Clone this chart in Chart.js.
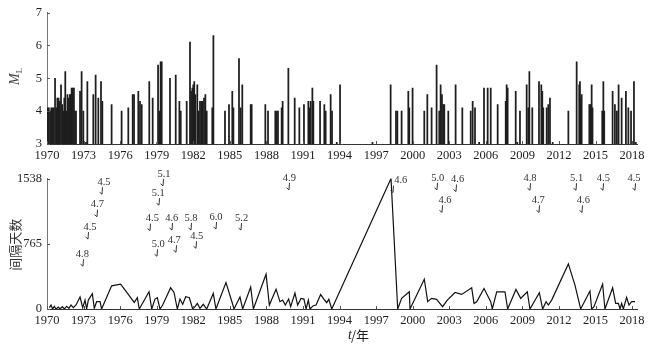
<!DOCTYPE html>
<html>
<head>
<meta charset="utf-8">
<script src="https://cdn.jsdelivr.net/npm/chart.js@4"></script>
<style>
  html, body { margin: 0; background: #fff; }
  #wrap { position: relative; width: 668px; height: 347px; }
  .box { position: absolute; left: 0; width: 668px; }
</style>
</head>
<body>
<div id="wrap">
  <div class="box" style="top:0;height:170px"><canvas id="mag"></canvas></div>
  <div class="box" style="top:166px;height:181px"><canvas id="gap"></canvas></div>
</div>
<script>
// Earthquake magnitudes (top) and interval days between events (bottom), 1970-2018.

const yearTicks = [1970, 1973, 1976, 1979, 1982, 1985, 1988, 1991, 1994, 1997, 2000, 2003, 2006, 2009, 2012, 2015, 2018];
const magTicks = [3, 4, 5, 6, 7];
const gapTicks = [0, 765, 1538];

// top panel: event time (decimal year) and M_L
const barYears = [
  1970.05, 1970.15, 1970.25, 1970.35, 1970.45, 1970.55, 1970.66, 1970.75, 1970.85, 1970.95,
  1971.05, 1971.15, 1971.25, 1971.35, 1971.42, 1971.50, 1971.60, 1971.68, 1971.78, 1971.88,
  1971.95, 1972.02, 1972.12, 1972.21, 1972.30, 1972.38, 1972.71, 1972.84, 1972.98, 1973.20,
  1973.31, 1973.80, 1973.99, 1974.21, 1974.43, 1974.54, 1975.30, 1976.12, 1976.67, 1977.03,
  1977.14, 1977.49, 1977.63, 1977.77, 1978.39, 1978.67, 1979.05, 1979.11, 1979.22, 1979.32,
  1979.41, 1980.09, 1980.56, 1980.86, 1980.97, 1981.46, 1981.73, 1981.82, 1981.92, 1982.00,
  1982.08, 1982.17, 1982.33, 1982.44, 1982.55, 1982.66, 1982.77, 1982.88, 1982.99, 1983.10,
  1983.56, 1983.65, 1984.60, 1984.93, 1985.20, 1985.29, 1985.75, 1985.89, 1986.02, 1986.71,
  1986.79, 1987.91, 1988.13, 1988.73, 1988.84, 1988.95, 1989.25, 1989.33, 1989.80, 1990.32,
  1990.70, 1991.08, 1991.44, 1991.52, 1991.63, 1991.77, 1991.85, 1992.40, 1992.75, 1992.86,
  1993.27, 1993.38, 1993.77, 1994.04, 1996.70, 1998.19, 1998.63, 1998.74, 1999.09, 1999.64,
  1999.72, 1999.99, 2000.95, 2001.20, 2001.55, 2001.96, 2002.18, 2002.29, 2002.40, 2002.50,
  2002.59, 2002.92, 2003.52, 2004.07, 2004.76, 2004.92, 2005.11, 2005.45, 2005.85, 2006.15,
  2006.40, 2006.97, 2007.63, 2007.71, 2007.79, 2008.45, 2008.58, 2008.80, 2009.35, 2009.48,
  2009.57, 2009.81, 2010.36, 2010.55, 2010.63, 2010.71, 2010.99, 2011.12, 2011.26, 2011.48,
  2012.77, 2013.45, 2013.66, 2013.72, 2013.78, 2013.86, 2014.49, 2014.57, 2014.68, 2014.75,
  2015.55, 2015.64, 2015.71, 2016.40, 2016.59, 2016.75, 2016.89, 2017.14, 2017.49, 2017.69,
  2017.91, 2018.15, 2018.30,
];
const barMags = [
  4.1, 4.1, 4.0, 4.1, 4.1, 4.1, 5.0, 4.1, 4.4, 4.4,
  4.3, 4.8, 4.2, 4.0, 4.4, 5.2, 4.0, 4.5, 4.4, 4.5,
  4.5, 4.7, 4.7, 4.7, 4.0, 4.0, 4.6, 5.2, 4.0, 3.05,
  4.9, 4.5, 5.1, 4.4, 4.9, 4.3, 4.2, 4.0, 4.1, 4.5,
  4.5, 4.6, 4.3, 4.2, 4.9, 4.4, 3.05, 5.4, 4.0, 5.5,
  5.5, 5.0, 5.1, 4.3, 4.0, 4.3, 6.1, 4.6, 4.7, 4.8,
  4.9, 4.5, 4.8, 4.0, 4.3, 4.3, 4.3, 4.4, 4.5, 4.0,
  4.1, 6.3, 4.0, 4.2, 4.6, 4.1, 5.6, 4.1, 4.8, 4.2,
  4.2, 4.2, 4.0, 4.0, 4.0, 4.0, 4.1, 4.3, 5.3, 4.4,
  4.1, 4.2, 4.3, 4.1, 4.3, 4.7, 4.3, 4.3, 4.2, 4.0,
  4.5, 4.0, 3.05, 4.8, 3.05, 4.8, 4.0, 4.0, 4.0, 4.6,
  4.1, 4.7, 4.0, 4.5, 4.1, 5.4, 4.0, 4.8, 4.5, 4.2,
  4.2, 4.0, 4.8, 4.1, 4.0, 4.3, 4.1, 3.05, 4.7, 4.7,
  4.7, 4.2, 4.3, 4.8, 4.7, 4.6, 3.05, 4.0, 4.8, 4.1,
  5.2, 4.1, 4.9, 4.8, 4.6, 4.1, 4.1, 4.2, 4.4, 3.05,
  4.0, 5.5, 4.8, 4.9, 4.4, 4.5, 4.2, 4.2, 4.8, 4.1,
  4.0, 4.9, 4.0, 4.6, 4.2, 4.0, 4.8, 4.4, 4.6, 4.1,
  4.0, 4.9, 3.05,
];

// bottom panel: interval (days) line
const lineYears = [
  1970.19, 1970.33, 1970.46, 1970.60, 1970.74, 1970.93, 1971.07, 1971.26, 1971.42, 1971.61,
  1971.80, 1971.97, 1972.16, 1972.38, 1972.71, 1972.93, 1973.12, 1973.25, 1973.39, 1973.72,
  1973.88, 1974.07, 1974.35, 1974.48, 1975.30, 1976.04, 1977.16, 1977.41, 1977.57, 1978.37,
  1978.59, 1978.86, 1979.05, 1979.27, 1979.49, 1980.14, 1980.42, 1980.69, 1980.91, 1981.13,
  1981.38, 1981.68, 1981.95, 1982.14, 1982.33, 1982.55, 1982.82, 1983.10, 1983.64, 1983.86,
  1984.68, 1985.15, 1985.34, 1985.83, 1986.05, 1986.71, 1986.93, 1987.97, 1988.24, 1988.79,
  1989.11, 1989.33, 1989.55, 1989.82, 1989.99, 1990.34, 1990.56, 1990.84, 1991.08, 1991.25,
  1991.44, 1991.57, 1991.85, 1992.07, 1992.45, 1992.80, 1992.95, 1993.12, 1993.36, 1998.22,
  1998.77, 1999.09, 1999.72, 1999.78, 2000.95, 2001.23, 2001.55, 2001.96, 2002.45, 2002.84,
  2003.47, 2004.02, 2004.84, 2005.03, 2005.25, 2005.85, 2006.40, 2006.53, 2006.89, 2007.57,
  2007.79, 2008.47, 2008.86, 2009.40, 2009.62, 2010.39, 2010.66, 2010.94, 2011.13, 2011.40,
  2012.77, 2013.31, 2013.78, 2014.54, 2014.68, 2014.87, 2015.58, 2015.77, 2016.40, 2016.65,
  2016.87, 2017.01, 2017.14, 2017.28, 2017.55, 2017.74, 2017.96, 2018.24,
];
const lineDays = [
  16, 47, 0, 31, 0, 23, 0, 27, 0, 31,
  8, 47, 16, 47, 141, 16, 105, 0, 105, 180,
  8, 86, 86, 0, 273, 293, 78, 133, 0, 203,
  0, 117, 133, 0, 47, 250, 195, 0, 117, 55,
  144, 133, 0, 27, 66, 8, 55, 0, 183, 0,
  312, 94, 0, 141, 0, 258, 0, 410, 47, 234,
  86, 105, 47, 117, 27, 187, 47, 125, 117, 0,
  105, 0, 39, 47, 170, 100, 75, 115, 0, 1538,
  0, 125, 203, 0, 351, 86, 125, 113, 27, 105,
  195, 172, 250, 66, 86, 242, 86, 0, 203, 203,
  0, 230, 125, 203, 0, 191, 0, 86, 47, 105,
  531, 281, 0, 211, 0, 27, 293, 0, 250, 66,
  66, 0, 66, 0, 137, 47, 86, 86,
];

// magnitude labels over the interval panel: label position, and the event each arrow marks
const annLabels = ["4.8", "4.5", "4.7", "4.5", "5.1", "5.1", "4.5", "4.6", "5.8", "6.0", "5.2", "5.0", "4.7", "4.5", "4.9",
  "4.6", "5.0", "4.6", "4.6", "4.8", "4.7", "5.1", "4.6", "4.5", "4.5"];
const annYears = [1972.90, 1973.53, 1974.13, 1974.68, 1979.60, 1979.13, 1978.64, 1980.23, 1981.81, 1983.86, 1985.97, 1979.13, 1980.44, 1982.28, 1989.88,
  1999.02, 2002.05, 2003.69, 2002.65, 2009.62, 2010.30, 2013.45, 2014.00, 2015.64, 2018.15];
const annDays = [646, 966, 1229, 1494, 1593, 1365, 1065, 1072, 1072, 1084, 1072, 763, 810, 857, 1546,
  1514, 1546, 1526, 1280, 1541, 1280, 1541, 1280, 1541, 1541];
const annArrowYears = [1972.98, 1973.39, 1974.08, 1974.49, 1979.54, 1979.21, 1978.45, 1980.23, 1981.81, 1983.84, 1985.89, 1979.05, 1980.56, 1982.20, 1989.88,
  1998.36, 2001.97, 2003.55, 2002.38, 2009.62, 2010.39, 2013.40, 2013.86, 2015.64, 2018.24];

const SERIF = "'Liberation Serif', 'Times New Roman', serif";
const CJK = "'Noto Sans CJK SC', sans-serif";
const INK = "#1e1e1e";

// small tick marks drawn inward from the axis lines
const inwardTicks = {
  id: "inwardTicks",
  afterDraw(chart) {
    const { ctx, chartArea: a, scales: { x, y } } = chart;
    ctx.save();
    ctx.strokeStyle = "#555";
    ctx.lineWidth = 1;
    ctx.beginPath();
    x.ticks.forEach((t) => {
      const px = Math.round(x.getPixelForValue(t.value)) + 0.5;
      ctx.moveTo(px, a.bottom);
      ctx.lineTo(px, a.bottom - 3);
    });
    y.ticks.forEach((t) => {
      const py = Math.round(y.getPixelForValue(t.value)) + 0.5;
      ctx.moveTo(a.left, py);
      ctx.lineTo(a.left + 3, py);
    });
    ctx.stroke();
    ctx.restore();
  },
};

const magTitle = {
  id: "magTitle",
  afterDraw(chart) {
    const { ctx, chartArea: a } = chart;
    ctx.save();
    ctx.translate(15, (a.top + a.bottom) / 2 - 2);
    ctx.rotate(-Math.PI / 2);
    ctx.fillStyle = "#444";
    ctx.textBaseline = "middle";
    ctx.font = `italic 14px ${SERIF}`;
    ctx.textAlign = "right";
    ctx.fillText("M", 3, 0);
    ctx.font = `9px ${SERIF}`;
    ctx.textAlign = "left";
    ctx.fillText("L", 3, 5);
    ctx.restore();
  },
};

const gapTitles = {
  id: "gapTitles",
  afterDraw(chart) {
    const { ctx, chartArea: a } = chart;
    ctx.save();
    ctx.fillStyle = "#333";
    ctx.textBaseline = "middle";
    ctx.translate(15, (a.top + a.bottom) / 2 + 1);
    ctx.rotate(-Math.PI / 2);
    ctx.textAlign = "center";
    ctx.font = `13px ${CJK}`;
    ctx.fillText("间隔天数", 0, 0);
    ctx.restore();

    ctx.save();
    ctx.fillStyle = INK;
    ctx.textBaseline = "middle";
    ctx.textAlign = "right";
    ctx.font = `italic 14px ${SERIF}`;
    ctx.fillText("t", 352, a.bottom + 26);
    ctx.textAlign = "left";
    ctx.font = `13px ${CJK}`;
    ctx.fillText("/年", 351, a.bottom + 26);
    ctx.restore();
  },
};

const magLabels = {
  id: "magLabels",
  afterDatasetsDraw(chart) {
    const { ctx, scales: { x, y } } = chart;
    ctx.save();
    ctx.fillStyle = "#333";
    ctx.strokeStyle = "#333";
    ctx.lineWidth = 1;
    ctx.font = `10.5px ${SERIF}`;
    ctx.textAlign = "center";
    ctx.textBaseline = "middle";
    annLabels.forEach((txt, i) => {
      const tx = x.getPixelForValue(annYears[i]);
      const ty = y.getPixelForValue(annDays[i]);
      ctx.fillText(txt, tx, ty);
      const ax = Math.round(x.getPixelForValue(annArrowYears[i])) + 0.5;
      const top = ty + 5;
      ctx.beginPath();
      ctx.moveTo(ax, top);
      ctx.lineTo(ax - 0.5, top + 7);
      ctx.lineTo(ax - 3, top + 5);
      ctx.stroke();
    });
    ctx.restore();
  },
};

function xScale(height) {
  return {
    type: "linear",
    min: 1970,
    max: 2018.4,
    offset: false,
    afterFit: (s) => { s.height = height; },
    afterBuildTicks: (s) => { s.ticks = yearTicks.map((v) => ({ value: v })); },
    grid: { display: true, offset: false, drawOnChartArea: false, drawTicks: false },
    border: { color: "#333", width: 1 },
    ticks: { color: INK, font: { family: SERIF, size: 12.5 }, padding: 4, maxRotation: 0, autoSkip: false, callback: (v) => String(v) },
  };
}

function yScale(min, max, tickVals) {
  return {
    min,
    max,
    afterFit: (s) => { s.width = 47; },
    afterBuildTicks: (s) => { s.ticks = tickVals.map((v) => ({ value: v })); },
    grid: { display: true, drawOnChartArea: false, drawTicks: false },
    border: { color: "#777", width: 1 },
    ticks: { color: INK, font: { family: SERIF, size: 12.5 }, padding: 5, callback: (v) => String(v) },
  };
}

new Chart(document.getElementById("mag"), {
  type: "bar",
  data: {
    datasets: [{
      data: barYears.map((yr, i) => ({ x: yr, y: barMags[i] })),
      backgroundColor: "#1e1e1e",
      barThickness: 1.1,
    }],
  },
  options: {
    responsive: true,
    maintainAspectRatio: false,
    animation: false,
    layout: { padding: { top: 11, right: 31, left: 0, bottom: 0 } },
    plugins: { legend: { display: false }, tooltip: { enabled: false } },
    scales: { x: xScale(26), y: yScale(3, 7, magTicks) },
  },
  plugins: [inwardTicks, magTitle],
});

new Chart(document.getElementById("gap"), {
  type: "line",
  data: {
    datasets: [{
      data: lineYears.map((yr, i) => ({ x: yr, y: lineDays[i] })),
      borderColor: "#111",
      borderWidth: 1.2,
      pointRadius: 0,
      tension: 0,
      fill: false,
    }],
  },
  options: {
    responsive: true,
    maintainAspectRatio: false,
    animation: false,
    layout: { padding: { top: 6, right: 31, left: 0, bottom: 0 } },
    plugins: { legend: { display: false }, tooltip: { enabled: false } },
    scales: { x: xScale(38), y: yScale(0, 1538, gapTicks) },
  },
  plugins: [inwardTicks, gapTitles, magLabels],
});
</script>
</body>
</html>
